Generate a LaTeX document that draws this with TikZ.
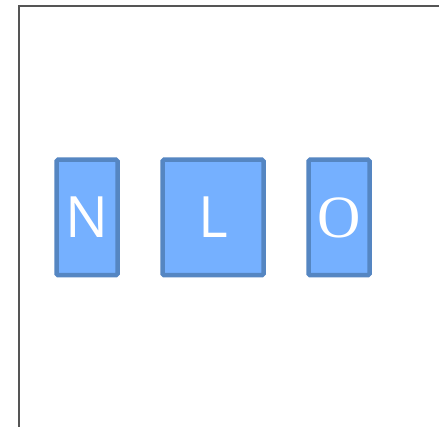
\documentclass[tikz,border=0pt]{standalone}
\usepackage{fontspec}
\setmainfont{Open Sans}
\newfontfamily\serifO{Liberation Serif}
\usetikzlibrary{positioning}
\definecolor{boxfill}{HTML}{75B0FF}
\definecolor{boxline}{HTML}{5586C2}
\definecolor{frameline}{HTML}{555555}
\begin{document}
\begin{tikzpicture}[node distance=126pt]
	\tikzstyle{letter} = [rectangle, draw=boxline, fill=boxfill, line width=4.5pt, rounded corners=1.5pt, text=white, inner sep=0pt, minimum height=115.5pt, font=\fontsize{57}{57}\selectfont]
	\useasboundingbox (0,0) rectangle (439pt,-427pt);

	% Frame
	\draw[frameline, line width=1.6pt] (19pt,-427pt) -- (19pt,-6pt) -- (439pt,-6pt);

	% Define nodes
	\node[letter, minimum width=61pt] (N) at (87pt,-217.5pt) {N};
	\node[letter, minimum width=101pt] (L) [right of=N] {L};
	\node[letter, minimum width=61pt, font=\serifO\fontsize{60}{60}\selectfont] (O) [right of=L] {O};

\end{tikzpicture}
\end{document}
